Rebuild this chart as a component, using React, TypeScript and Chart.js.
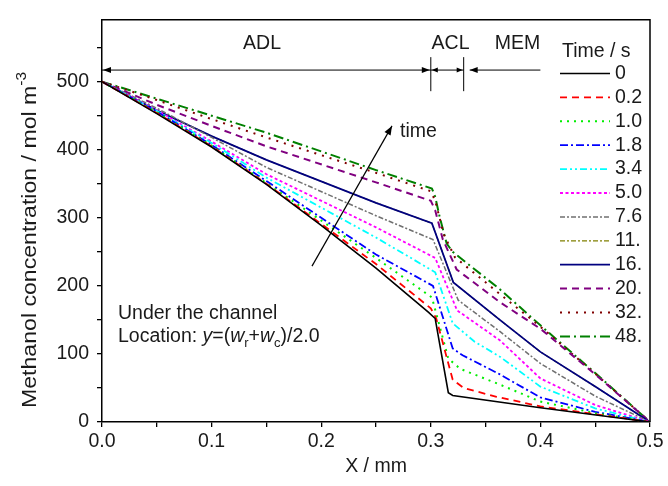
import React, { useEffect, useRef } from 'react';
import { Chart, registerables } from 'chart.js';

Chart.register(...registerables);

const FONT = 'Arial, "Liberation Sans", Helvetica, sans-serif';
const TXT = '#1a1a1a';
const FS = 19.5;

// axis ticks
const X_TICKS = [0, 0.05, 0.1, 0.15, 0.2, 0.25, 0.3, 0.35, 0.4, 0.45, 0.5];
const X_LABELS = ['0.0', '', '0.1', '', '0.2', '', '0.3', '', '0.4', '', '0.5'];
const Y_TICKS = [0, 50, 100, 150, 200, 250, 300, 350, 400, 450, 500, 550];
const Y_LABELS = ['0', '', '100', '', '200', '', '300', '', '400', '', '500', ''];

// legend / series names
const TIMES = ['0', '0.2', '1.0', '1.8', '3.4', '5.0', '7.6', '11.', '16.', '20.', '32.', '48.'];

// series data (x in mm, y in mol m^-3)
const X_T0 = [0, 0.05, 0.1, 0.15, 0.2, 0.25, 0.298, 0.304, 0.316, 0.32, 0.4, 0.5];
const Y_T0 = [500, 453, 404, 349, 289, 226, 161, 152, 43, 39, 21, 0];

const X_T02 = [0, 0.05, 0.1, 0.15, 0.25, 0.3, 0.305, 0.32, 0.33, 0.36, 0.4, 0.5];
const Y_T02 = [500, 454, 405, 350, 232, 167, 152, 62, 50, 37, 23, 0];

const X_T10 = [0, 0.05, 0.1, 0.15, 0.25, 0.301, 0.316, 0.327, 0.363, 0.4, 0.45, 0.5];
const Y_T10 = [500, 455, 406, 351, 241, 183, 93, 78, 55, 30, 13, 0];

const X_T18 = [0, 0.05, 0.1, 0.15, 0.25, 0.302, 0.32, 0.329, 0.363, 0.4, 0.45, 0.5];
const Y_T18 = [500, 456, 407, 354, 246, 200, 108, 98, 70, 36, 15, 0];

const X_T34 = [0, 0.05, 0.1, 0.15, 0.25, 0.304, 0.32, 0.34, 0.363, 0.4, 0.45, 0.5];
const Y_T34 = [500, 457, 410, 359, 271, 220, 145, 118, 96, 52, 20, 0];

const X_T50 = [0, 0.05, 0.1, 0.15, 0.25, 0.304, 0.324, 0.363, 0.4, 0.45, 0.5];
const Y_T50 = [500, 458, 412, 364, 286, 241, 164, 120, 64, 25, 0];

const X_T76 = [0, 0.05, 0.1, 0.15, 0.25, 0.302, 0.325, 0.363, 0.4, 0.45, 0.5];
const Y_T76 = [500, 461, 418, 374, 303, 268, 179, 133, 86, 38, 0];

const X_T11 = [0, 0.05, 0.1, 0.15, 0.25, 0.301, 0.3206, 0.363, 0.4, 0.45, 0.5];
const Y_T11 = [500, 458, 420, 385, 322, 292, 205, 150, 103, 52, 0];

const X_T16 = [0, 0.05, 0.1, 0.15, 0.25, 0.301, 0.3206, 0.363, 0.4, 0.45, 0.5];
const Y_T16 = [500, 458, 420, 385, 322, 292, 205, 150, 103, 52, 0];

const X_T20 = [0, 0.05, 0.1, 0.15, 0.25, 0.3, 0.304, 0.311, 0.3236, 0.363, 0.4, 0.45, 0.5];
const Y_T20 = [500, 466, 435, 405, 352, 325, 311, 268, 224, 176, 137, 70, 0];

const X_T32 = [0, 0.05, 0.1, 0.15, 0.25, 0.3, 0.304, 0.312, 0.322, 0.363, 0.4, 0.45, 0.5];
const Y_T32 = [500, 473, 445, 418, 366, 339, 325, 275, 242, 188, 140, 71, 0];

const X_T48 = [0, 0.05, 0.1, 0.15, 0.25, 0.301, 0.304, 0.308, 0.3145, 0.32, 0.363, 0.4, 0.45, 0.5];
const Y_T48 = [500, 475, 450, 425, 370, 343, 331, 302, 262, 250, 195, 142, 72, 0];

const SERIES_X = [X_T0, X_T02, X_T10, X_T18, X_T34, X_T50, X_T76, X_T11, X_T16, X_T20, X_T32, X_T48];
const SERIES_Y = [Y_T0, Y_T02, Y_T10, Y_T18, Y_T34, Y_T50, Y_T76, Y_T11, Y_T16, Y_T20, Y_T32, Y_T48];

const STYLES = [
  { color: '#000000', dash: [], width: 1.6 },
  { color: '#ff0000', dash: [7, 5], width: 1.8 },
  { color: '#00ee00', dash: [2, 5], width: 2 },
  { color: '#0000ff', dash: [8, 3, 2, 3], width: 1.8 },
  { color: '#00ffff', dash: [7, 3, 2, 3, 2, 3], width: 1.8 },
  { color: '#ff00ff', dash: [3, 2.5], width: 1.8 },
  { color: '#707070', dash: [5, 2, 2, 2], width: 1.5 },
  { color: '#808000', dash: [5, 2, 2, 2], width: 1.3 },
  { color: '#000080', dash: [], width: 1.8 },
  { color: '#800080', dash: [7, 5], width: 2 },
  { color: '#800000', dash: [2, 6], width: 2 },
  { color: '#008000', dash: [10, 4, 2, 4], width: 2 },
];

// annotation positions (data coordinates)
const LAYER_EDGES = [0, 0.3, 0.33];
const MEM_ARROW_END = 0.4;
const LAYER_ARROW_Y = 517;
const LAYER_BAR_Y = [486, 536];
const LAYER_NAMES = ['ADL', 'ACL', 'MEM'];
const LAYER_LABEL_X = [0.146, 0.318, 0.379];
const LAYER_LABEL_Y = 556;
const TIME_ARROW = [[0.1916, 229], [0.2646, 435]];
const TIME_LABEL = [0.2719, 426];
const NOTE_X = 0.0146;
const NOTE_Y = [159, 126];

function arrowHead(ctx: CanvasRenderingContext2D, x: number, y: number, ang: number, len = 8, half = 3) {
  ctx.beginPath();
  ctx.moveTo(x, y);
  ctx.lineTo(x - len * Math.cos(ang) + half * Math.sin(ang), y - len * Math.sin(ang) - half * Math.cos(ang));
  ctx.lineTo(x - len * Math.cos(ang) - half * Math.sin(ang), y - len * Math.sin(ang) + half * Math.cos(ang));
  ctx.closePath();
  ctx.fill();
}

const annotPlugin = {
  id: 'annot',
  afterDraw(chart: any) {
    const { ctx, chartArea, scales } = chart;
    const px = (v: number) => scales.x.getPixelForValue(v);
    const py = (v: number) => scales.y.getPixelForValue(v);
    ctx.save();
    // frame top & right
    ctx.strokeStyle = '#000';
    ctx.lineWidth = 1.5;
    ctx.setLineDash([]);
    ctx.beginPath();
    ctx.moveTo(chartArea.left, chartArea.top);
    ctx.lineTo(chartArea.right, chartArea.top);
    ctx.lineTo(chartArea.right, chartArea.bottom);
    ctx.stroke();

    // layer arrows
    ctx.lineWidth = 1;
    ctx.fillStyle = '#000';
    const ay = py(LAYER_ARROW_Y);
    const e0 = px(LAYER_EDGES[0]);
    const e1 = px(LAYER_EDGES[1]);
    const e2 = px(LAYER_EDGES[2]);
    const e3 = px(MEM_ARROW_END);
    ctx.beginPath();
    ctx.moveTo(e0, ay); ctx.lineTo(e1, ay);
    ctx.moveTo(e1, ay); ctx.lineTo(e2, ay);
    ctx.moveTo(e2 + 6, ay); ctx.lineTo(e3, ay);
    ctx.moveTo(e1, py(LAYER_BAR_Y[0])); ctx.lineTo(e1, py(LAYER_BAR_Y[1]));
    ctx.moveTo(e2, py(LAYER_BAR_Y[0])); ctx.lineTo(e2, py(LAYER_BAR_Y[1]));
    ctx.stroke();
    arrowHead(ctx, e0 + 1, ay, Math.PI);
    arrowHead(ctx, e1 - 1, ay, 0);
    arrowHead(ctx, e1 + 1, ay, Math.PI, 6, 2.5);
    arrowHead(ctx, e2 - 1, ay, 0, 6, 2.5);
    arrowHead(ctx, e2 + 6, ay, Math.PI);

    ctx.font = `${FS}px ${FONT}`;
    ctx.fillStyle = TXT;
    ctx.textAlign = 'center';
    ctx.textBaseline = 'middle';
    LAYER_NAMES.forEach((n, i) => ctx.fillText(n, px(LAYER_LABEL_X[i]), py(LAYER_LABEL_Y)));

    // time arrow
    const tx0 = px(TIME_ARROW[0][0]), ty0 = py(TIME_ARROW[0][1]);
    const tx1 = px(TIME_ARROW[1][0]), ty1 = py(TIME_ARROW[1][1]);
    ctx.strokeStyle = '#000';
    ctx.lineWidth = 1.2;
    ctx.beginPath();
    ctx.moveTo(tx0, ty0);
    ctx.lineTo(tx1, ty1);
    ctx.stroke();
    ctx.fillStyle = '#000';
    arrowHead(ctx, tx1, ty1, Math.atan2(ty1 - ty0, tx1 - tx0), 9, 3.5);
    ctx.fillStyle = TXT;
    ctx.textAlign = 'left';
    ctx.fillText('time', px(TIME_LABEL[0]), py(TIME_LABEL[1]));

    // notes
    const nx = px(NOTE_X);
    ctx.fillText('Under the channel', nx, py(NOTE_Y[0]));
    const ly = py(NOTE_Y[1]);
    const parts: { t: string; it?: boolean; sub?: boolean }[] = [
      { t: 'Location: ' }, { t: 'y', it: true }, { t: '=(' }, { t: 'w', it: true }, { t: 'r', sub: true },
      { t: '+' }, { t: 'w', it: true }, { t: 'c', sub: true }, { t: ')/2.0' },
    ];
    let cx = nx;
    parts.forEach((p) => {
      ctx.font = p.sub ? `13px ${FONT}` : p.it ? `italic ${FS}px ${FONT}` : `${FS}px ${FONT}`;
      ctx.fillText(p.t, cx, p.sub ? ly + 7 : ly);
      cx += ctx.measureText(p.t).width;
    });

    // axis titles
    ctx.font = `${FS}px ${FONT}`;
    ctx.textAlign = 'center';
    ctx.fillText('X / mm', (chartArea.left + chartArea.right) / 2, 467);
    ctx.save();
    ctx.translate(30, 240);
    ctx.rotate(-Math.PI / 2);
    ctx.scale(1.1, 1);
    const main = 'Methanol concentration / mol m';
    ctx.font = `21px ${FONT}`;
    const w1 = ctx.measureText(main).width;
    ctx.font = `14px ${FONT}`;
    const w2 = ctx.measureText('-3').width;
    ctx.textAlign = 'left';
    ctx.font = `21px ${FONT}`;
    ctx.fillText(main, -(w1 + w2) / 2, 0);
    ctx.font = `14px ${FONT}`;
    ctx.fillText('-3', -(w1 + w2) / 2 + w1, -8);
    ctx.restore();

    // legend
    const lx0 = 560, lx1 = 610, ltx = 615;
    ctx.font = `${FS}px ${FONT}`;
    ctx.textAlign = 'left';
    ctx.fillStyle = TXT;
    ctx.fillText('Time / s', 562, 52);
    chart.data.datasets.forEach((ds: any, i: number) => {
      const y = 73.5 + 23.9 * i;
      ctx.strokeStyle = ds.borderColor;
      ctx.lineWidth = ds.borderWidth;
      ctx.setLineDash(ds.borderDash || []);
      ctx.beginPath();
      ctx.moveTo(lx0, y);
      ctx.lineTo(lx1, y);
      ctx.stroke();
      ctx.setLineDash([]);
      ctx.fillStyle = TXT;
      ctx.fillText(TIMES[i], ltx, y);
    });
    ctx.restore();
  },
};

export default function App() {
  const ref = useRef<HTMLCanvasElement | null>(null);
  useEffect(() => {
    if (!ref.current) return;
    const datasets = SERIES_X.map((xs, i) => ({
      label: TIMES[i],
      data: xs.map((x, j) => ({ x, y: SERIES_Y[i][j] })),
      borderColor: STYLES[i].color,
      borderDash: STYLES[i].dash,
      borderWidth: STYLES[i].width,
      borderCapStyle: 'butt',
      pointRadius: 0,
      fill: false,
      tension: 0,
      order: i === 7 ? 1 : 0,
    }));
    const chart = new Chart(ref.current, {
      type: 'line',
      data: { datasets } as any,
      options: {
        responsive: false,
        animation: false,
        events: [],
        layout: { padding: { top: 14, right: 18, left: 0, bottom: 0 } },
        plugins: { legend: { display: false }, tooltip: { enabled: false } },
        scales: {
          x: {
            type: 'linear',
            min: 0,
            max: 0.5,
            afterFit: (s: any) => { s.height = 64; },
            afterBuildTicks: (s: any) => { s.ticks = X_TICKS.map((v) => ({ value: v })); },
            ticks: {
              autoSkip: false,
              maxRotation: 0,
              padding: 3,
              color: TXT,
              font: { family: FONT, size: FS },
              callback: (_v: any, i: number) => X_LABELS[i],
            },
            grid: { drawOnChartArea: false, drawTicks: true, tickLength: 5, color: '#000', lineWidth: 1.3 },
            border: { display: true, color: '#000', width: 1.5 },
          },
          y: {
            type: 'linear',
            min: 0,
            max: 591,
            afterFit: (s: any) => { s.width = 102; },
            afterBuildTicks: (s: any) => { s.ticks = Y_TICKS.map((v) => ({ value: v })); },
            ticks: {
              autoSkip: false,
              padding: 8,
              color: TXT,
              font: { family: FONT, size: FS },
              callback: (_v: any, i: number) => Y_LABELS[i],
            },
            grid: { drawOnChartArea: false, drawTicks: true, tickLength: 5, color: '#000', lineWidth: 1.3 },
            border: { display: true, color: '#000', width: 1.5 },
          },
        },
      } as any,
      plugins: [annotPlugin],
    });
    return () => chart.destroy();
  }, []);
  return (
    <div style={{ position: 'absolute', left: 0, top: 0, width: 668, height: 486, background: '#fff' }}>
      <canvas ref={ref} width={668} height={486} style={{ width: 668, height: 486, display: 'block' }} />
    </div>
  );
}
